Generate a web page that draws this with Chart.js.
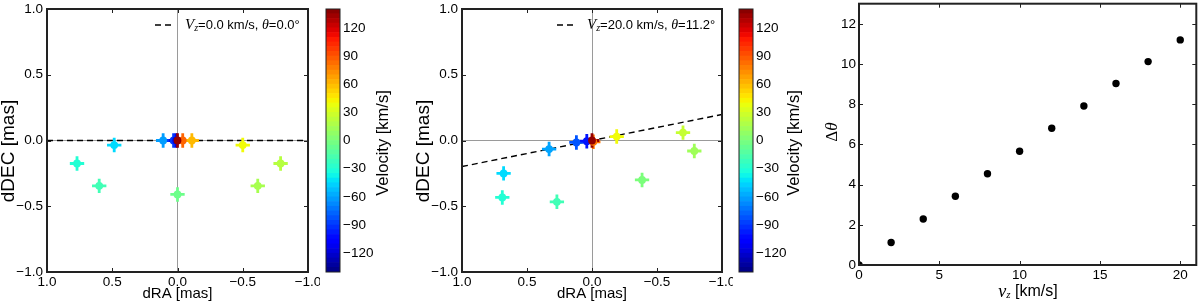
<!DOCTYPE html>
<html>
<head>
<meta charset="utf-8">
<title>Offsets, velocities and rotation angle</title>
<script src="https://cdn.jsdelivr.net/npm/chart.js@4.4.1/dist/chart.umd.min.js"></script>
<style>
html,body{margin:0;padding:0;background:#fff;}
#fig{position:relative;width:1200px;height:307px;overflow:hidden;background:#fff;}
#fig canvas{position:absolute;top:0;}
</style>
</head>
<body>
<div id="fig">
<canvas id="p1" width="320" height="307" style="left:0px;width:320px;height:307px"></canvas>
<canvas id="cb1" width="95" height="307" style="left:320px;width:95px;height:307px"></canvas>
<canvas id="p2" width="318" height="307" style="left:415px;width:318px;height:307px"></canvas>
<canvas id="cb2" width="75" height="307" style="left:733px;width:75px;height:307px"></canvas>
<canvas id="p3" width="400" height="307" style="left:800px;width:400px;height:307px"></canvas>
</div>
<script>
// ---------------- data ----------------
const masTicks = [-1.0, -0.5, 0.0, 0.5, 1.0];
const masTickLabels = ['\u22121.0', '\u22120.5', '0.0', '0.5', '1.0'];
const velTicks = [-120, -90, -60, -30, 0, 30, 60, 90, 120];
const velTickLabels = ['\u2212120', '\u221290', '\u221260', '\u221230', '0', '30', '60', '90', '120'];
const velLevels = [-140, -135, -130, -125, -120, -115, -110, -105, -100, -95, -90, -85, -80, -75, -70, -65,
  -60, -55, -50, -45, -40, -35, -30, -25, -20, -15, -10, -5, 0, 5, 10, 15, 20, 25, 30, 35, 40, 45, 50, 55,
  60, 65, 70, 75, 80, 85, 90, 95, 100, 105, 110, 115, 120, 125, 130, 135, 140];
const vzTicks = [0, 5, 10, 15, 20];
const vzTickLabels = ['0', '5', '10', '15', '20'];
const dThetaTicks = [0, 2, 4, 6, 8, 10, 12];
const dThetaTickLabels = ['0', '2', '4', '6', '8', '10', '12'];

// panel 1 : Vz = 0 km/s
const ra1  = [0.77, 0.60, 0.485, 0.11, 0.03, 0.01, 0.00, -0.04, -0.11, -0.50, -0.615, -0.79, 0.00];
const dec1 = [-0.175, -0.345, -0.035, 0.00, 0.00, 0.00, -0.41, 0.00, 0.00, -0.035, -0.345, -0.175, 0.00];
const vel1 = [-30, -20, -45, -62, -90, -115, -5, 85, 60, 40, 15, 20, 135];
const raErr1  = [0.055, 0.055, 0.055, 0.055, 0.055, 0.055, 0.055, 0.055, 0.055, 0.055, 0.055, 0.055, 0.055];
const decErr1 = [0.055, 0.055, 0.055, 0.055, 0.055, 0.055, 0.055, 0.055, 0.055, 0.055, 0.055, 0.055, 0.055];
const fitRA1  = [1.0, -1.0];
const fitDEC1 = [0.0, 0.0];

// panel 2 : Vz = 20 km/s
const ra2  = [0.68, 0.69, 0.27, 0.33, 0.12, 0.04, -0.01, -0.19, -0.385, -0.70, -0.787, 0.00];
const dec2 = [-0.25, -0.433, -0.466, -0.065, -0.015, -0.005, -0.01, 0.03, -0.30, 0.06, -0.08, 0.00];
const vel2 = [-45, -30, -20, -60, -82, -100, 80, 40, 0, 25, 12, 135];
const raErr2  = [0.055, 0.055, 0.055, 0.055, 0.055, 0.055, 0.055, 0.055, 0.055, 0.055, 0.055, 0.055];
const decErr2 = [0.055, 0.055, 0.055, 0.055, 0.055, 0.055, 0.055, 0.055, 0.055, 0.055, 0.055, 0.055];
const fitRA2  = [1.0, -1.0];
const fitDEC2 = [-0.198, 0.198];

// panel 3
const vz     = [0, 2, 4, 6, 8, 10, 12, 14, 16, 18, 20];
const dTheta = [0, 1.12, 2.29, 3.42, 4.54, 5.66, 6.80, 7.91, 9.03, 10.12, 11.2];

// ---------------- styling helpers ----------------
const SANS = '"Liberation Sans", Arial, Helvetica, sans-serif';
const SERIF = '"Liberation Serif", "Times New Roman", serif';
const H = 307;
const VMIN = -140, VMAX = 140;

const JR = [[0, 0], [0.35, 0], [0.66, 1], [0.89, 1], [1, 0.5]];
const JG = [[0, 0], [0.125, 0], [0.375, 1], [0.64, 1], [0.91, 0], [1, 0]];
const JB = [[0, 0.5], [0.11, 1], [0.34, 1], [0.65, 0], [1, 0]];
function seg(s, t) {
  for (let i = 1; i < s.length; i++) {
    if (t <= s[i][0]) {
      const [x0, y0] = s[i - 1], [x1, y1] = s[i];
      return y0 + (y1 - y0) * (t - x0) / (x1 - x0);
    }
  }
  return s[s.length - 1][1];
}
function jet(v) {
  const t = Math.min(1, Math.max(0, (v - VMIN) / (VMAX - VMIN)));
  return 'rgb(' + Math.round(255 * seg(JR, t)) + ',' + Math.round(255 * seg(JG, t)) + ',' + Math.round(255 * seg(JB, t)) + ')';
}

const TEXTS = {};
const FRAMES = {};

Chart.register({
  id: 'errbars',
  beforeDatasetDraw(chart, args) {
    const ds = chart.data.datasets[args.index];
    if (!ds.xErr) return;
    const ctx = chart.ctx, a = chart.chartArea, xs = chart.scales.x, ys = chart.scales.y;
    ctx.save();
    ctx.beginPath(); ctx.rect(a.left, a.top, a.right - a.left, a.bottom - a.top); ctx.clip();
    ctx.lineWidth = 2.8; ctx.lineCap = 'butt';
    ds.data.forEach((p, i) => {
      ctx.strokeStyle = ds.pointBackgroundColor[i];
      const px = xs.getPixelForValue(p.x), py = ys.getPixelForValue(p.y);
      ctx.beginPath();
      ctx.moveTo(xs.getPixelForValue(p.x - ds.xErr[i]), py);
      ctx.lineTo(xs.getPixelForValue(p.x + ds.xErr[i]), py);
      ctx.moveTo(px, ys.getPixelForValue(p.y - ds.yErr[i]));
      ctx.lineTo(px, ys.getPixelForValue(p.y + ds.yErr[i]));
      ctx.stroke();
    });
    ctx.restore();
  }
});

Chart.register({
  id: 'frame',
  afterDatasetsDraw(chart) {
    const f = FRAMES[chart.canvas.id];
    if (!f) return;
    const ctx = chart.ctx, a = chart.chartArea;
    ctx.save();
    ctx.strokeStyle = '#222';
    if (f.tick) {
      ctx.lineWidth = 1;
      const xs = chart.scales.x, ys = chart.scales.y;
      xs.ticks.forEach(t => {
        const p = Math.round(xs.getPixelForValue(t.value)) + 0.5;
        ctx.beginPath();
        ctx.moveTo(p, a.bottom); ctx.lineTo(p, a.bottom - f.tick);
        ctx.moveTo(p, a.top); ctx.lineTo(p, a.top + f.tick);
        ctx.stroke();
      });
      ys.ticks.forEach(t => {
        const p = Math.round(ys.getPixelForValue(t.value)) + 0.5;
        ctx.beginPath();
        ctx.moveTo(a.left, p); ctx.lineTo(a.left + f.tick, p);
        ctx.moveTo(a.right, p); ctx.lineTo(a.right - f.tick, p);
        ctx.stroke();
      });
    }
    ctx.lineWidth = f.width;
    ctx.strokeRect(a.left, a.top, a.right - a.left, a.bottom - a.top);
    ctx.restore();
  }
});

Chart.register({
  id: 'texts',
  afterDraw(chart) {
    const items = TEXTS[chart.canvas.id];
    if (!items) return;
    const ctx = chart.ctx, off = chart.canvas.offsetLeft;
    items.forEach(it => {
      ctx.save();
      if (it.dash) {
        ctx.strokeStyle = '#000'; ctx.lineWidth = 1.4; ctx.setLineDash([6, 4]);
        ctx.beginPath(); ctx.moveTo(it.dash[0] - off, it.dash[2]); ctx.lineTo(it.dash[1] - off, it.dash[2]); ctx.stroke();
        ctx.restore();
        return;
      }
      ctx.translate(it.x - off, it.y);
      if (it.rot) ctx.rotate(it.rot * Math.PI / 180);
      const widths = it.runs.map(r => { ctx.font = r.font; return ctx.measureText(r.t).width; });
      const total = widths.reduce((s, w) => s + w, 0);
      let x = it.align === 'left' ? 0 : (it.align === 'right' ? -total : -total / 2);
      ctx.textBaseline = 'middle';
      ctx.fillStyle = '#000';
      it.runs.forEach((r, i) => { ctx.font = r.font; ctx.fillText(r.t, x, r.dy || 0); x += widths[i]; });
      ctx.restore();
    });
  }
});

function labelFor(vals, labels) {
  return v => { const i = vals.findIndex(t => Math.abs(t - v) < 1e-9); return i < 0 ? '' : labels[i]; };
}
function axis(o) {
  const horiz = o.pos === 'bottom';
  return {
    type: 'linear', position: o.pos, min: o.min, max: o.max, reverse: !!o.reverse,
    afterBuildTicks: s => { s.ticks = o.ticks.map(v => ({ value: v })); },
    afterFit: s => {
      if (horiz) s.height = o.size; else s.width = o.size;
      s.paddingLeft = 0; s.paddingRight = 0; s.paddingTop = 0; s.paddingBottom = 0;
    },
    ticks: { autoSkip: false, maxRotation: 0, minRotation: 0, padding: o.pad, color: '#000',
      font: { family: SANS, size: 13.5 }, callback: labelFor(o.ticks, o.labels) },
    grid: { display: !!o.zero, drawTicks: false, lineWidth: 1,
      color: c => (c.tick && Math.abs(c.tick.value) < 1e-9) ? '#9a9a9a' : 'rgba(0,0,0,0)' },
    border: { display: false }
  };
}
function base(padding) {
  return { responsive: false, animation: false, devicePixelRatio: 1, events: [],
    layout: { padding: padding },
    plugins: { legend: { display: false }, tooltip: { enabled: false } } };
}
function legendRuns(v, th) {
  return [
    { t: 'V', font: 'italic 15px ' + SERIF },
    { t: 'z', font: 'italic 10px ' + SERIF, dy: 3 },
    { t: '=' + v.toFixed(1) + ' km/s, ', font: '13px ' + SANS },
    { t: '\u03b8', font: 'italic 14px ' + SERIF },
    { t: '=' + th.toFixed(1) + '\u00b0', font: '13px ' + SANS }
  ];
}

function scatterPanel(cid, A, ra, dec, vel, raErr, decErr, fitRA, fitDEC) {
  const cv = document.getElementById(cid);
  const left = cv.offsetLeft, w = cv.width;
  const o = base({ left: 0, top: A.T, right: left + w - A.R, bottom: 0 });
  o.scales = {
    x: axis({ pos: 'bottom', min: -1, max: 1, reverse: true, ticks: masTicks, labels: masTickLabels, size: H - A.B, pad: 2, zero: true }),
    y: axis({ pos: 'left', min: -1, max: 1, ticks: masTicks, labels: masTickLabels, size: A.L - left, pad: 4, zero: true })
  };
  FRAMES[cid] = { tick: 4, width: 2 };
  return new Chart(cv, {
    type: 'scatter',
    data: { datasets: [
      { label: 'offsets', data: ra.map((x, i) => ({ x: x, y: dec[i] })), pointRadius: 3.9, pointHoverRadius: 3.9,
        pointBorderWidth: 0, pointBackgroundColor: vel.map(jet), xErr: raErr, yErr: decErr, clip: 0 },
      { type: 'line', label: 'model', data: fitRA.map((x, i) => ({ x: x, y: fitDEC[i] })), borderColor: '#000',
        borderWidth: 1.4, borderDash: [6, 4], pointRadius: 0, fill: false, clip: 0 }
    ] },
    options: o
  });
}

function colorbar(cid, A) {
  const cv = document.getElementById(cid);
  const left = cv.offsetLeft, w = cv.width;
  const datasets = [];
  for (let i = 0; i < velLevels.length - 1; i++) {
    const lo = velLevels[i], hi = velLevels[i + 1];
    datasets.push({ data: [[lo, hi]], backgroundColor: jet((lo + hi) / 2), borderWidth: 0, grouped: false,
      barPercentage: 1, categoryPercentage: 1 });
  }
  const o = base({ left: A.L - left, top: A.T, right: 0, bottom: H - A.B });
  o.scales = {
    x: { display: false },
    y: axis({ pos: 'right', min: VMIN, max: VMAX, ticks: velTicks, labels: velTickLabels, size: left + w - A.R, pad: 3 })
  };
  FRAMES[cid] = { tick: 0, width: 1 };
  return new Chart(cv, { type: 'bar', data: { labels: ['v'], datasets: datasets }, options: o });
}

// ---------------- panel 1 ----------------
TEXTS.p1 = [
  { x: 177.5, y: 294, runs: [{ t: 'dRA [mas]', font: '15px ' + SANS }] },
  { x: 9, y: 151, rot: -90, runs: [{ t: 'dDEC [mas]', font: '19px ' + SANS }] },
  { dash: [155, 173, 25] },
  { x: 185, y: 25, align: 'left', runs: legendRuns(vz[0], dTheta[0]) }
];
scatterPanel('p1', { L: 47, R: 308, T: 9, B: 272 }, ra1, dec1, vel1, raErr1, decErr1, fitRA1, fitDEC1);

TEXTS.cb1 = [{ x: 383, y: 143, rot: -90, runs: [{ t: 'Velocity [km/s]', font: '16.5px ' + SANS }] }];
colorbar('cb1', { L: 326, R: 340, T: 9, B: 272 });

// ---------------- panel 2 ----------------
TEXTS.p2 = [
  { x: 592, y: 294, runs: [{ t: 'dRA [mas]', font: '15px ' + SANS }] },
  { x: 424, y: 151, rot: -90, runs: [{ t: 'dDEC [mas]', font: '19px ' + SANS }] },
  { dash: [557, 573, 25] },
  { x: 587, y: 25, align: 'left', runs: legendRuns(vz[vz.length - 1], dTheta[dTheta.length - 1]) }
];
scatterPanel('p2', { L: 462, R: 722, T: 9, B: 272 }, ra2, dec2, vel2, raErr2, decErr2, fitRA2, fitDEC2);

TEXTS.cb2 = [{ x: 794, y: 143, rot: -90, runs: [{ t: 'Velocity [km/s]', font: '16.5px ' + SANS }] }];
colorbar('cb2', { L: 739, R: 753, T: 9, B: 272 });

// ---------------- panel 3 ----------------
(function () {
  const cid = 'p3';
  const cv = document.getElementById(cid);
  const left = cv.offsetLeft, w = cv.width;
  const A = { L: 859, R: 1198, T: 3, B: 265 };
  const o = base({ left: 0, top: A.T, right: left + w - A.R, bottom: 0 });
  o.scales = {
    x: axis({ pos: 'bottom', min: 0, max: 21, ticks: vzTicks, labels: vzTickLabels, size: H - A.B, pad: 2 }),
    y: axis({ pos: 'left', min: 0, max: 13, ticks: dThetaTicks, labels: dThetaTickLabels, size: A.L - left, pad: 3 })
  };
  FRAMES[cid] = { tick: 4, width: 2 };
  TEXTS[cid] = [
    { x: 833, y: 132, rot: -90, runs: [{ t: '\u0394', font: '17px ' + SERIF }, { t: '\u03b8', font: 'italic 17px ' + SERIF }] },
    { x: 1028, y: 292, runs: [{ t: 'v', font: 'italic 18px ' + SERIF }, { t: 'z', font: 'italic 11px ' + SERIF, dy: 3 },
      { t: ' [km/s]', font: '16px ' + SANS }] }
  ];
  new Chart(cv, {
    type: 'scatter',
    data: { datasets: [{ label: 'dtheta', data: vz.map((x, i) => ({ x: x, y: dTheta[i] })), pointRadius: 3.7,
      pointHoverRadius: 3.7, pointBackgroundColor: '#000', pointBorderWidth: 0, clip: 0 }] },
    options: o
  });
})();
</script>
</body>
</html>
